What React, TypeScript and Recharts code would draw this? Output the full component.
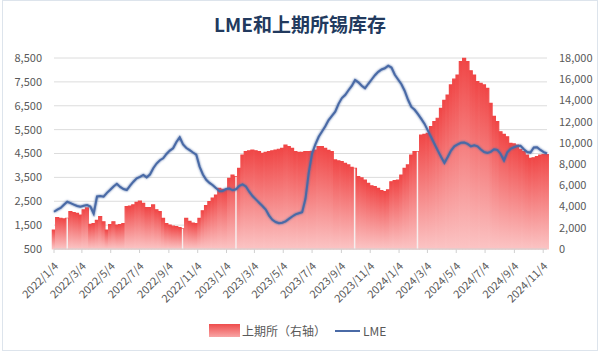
import React from 'react';
import { ComposedChart, Bar, Line, XAxis, YAxis, CartesianGrid, ReferenceLine } from 'recharts';

// weekly samples starting 2022/1/4 (x = week * 7 days)
const lmeStock = [
  2060, 2150, 2220, 2350, 2480, 2420, 2360, 2300, 2270, 2310, 2340, 2280, 1980, 2700, 2720, 2690,
  2850, 2980, 3120, 3230, 3100, 3010, 2970, 3150, 3320, 3460, 3520, 3600, 3500, 3620, 3880, 4080,
  4220, 4300, 4480, 4620, 4720, 4980, 5180, 4880, 4730, 4640, 4540, 4450, 3950, 3620, 3400, 3270,
  3170, 3050, 2920, 2930, 3010, 3030, 2960, 3000, 3150, 3210, 3120, 2900, 2720, 2580, 2440, 2300,
  2150, 1900, 1720, 1630, 1580, 1600, 1660, 1760, 1860, 1950, 2000, 2040, 2600, 3700, 4500, 4880,
  5200, 5420, 5640, 5900, 6080, 6250, 6580, 6820, 6950, 7150, 7330, 7580, 7480, 7340, 7230, 7420,
  7600, 7780, 7920, 8020, 8070, 8180, 8100, 7800, 7600, 7400, 7120, 6750, 6450, 6330, 6150, 5950,
  5740, 5460, 5180, 4900, 4620, 4350, 4100, 4350, 4620, 4800, 4880, 4950, 4960, 4900, 4800, 4840,
  4800, 4670, 4560, 4520, 4570, 4680, 4650, 4480, 4200, 4550, 4700, 4760, 4810, 4820, 4680, 4560,
  4540, 4750, 4760, 4650, 4560, 4500,
];

const shfeStock = [
  1790, 2950, 2900, 2830, 2900, 3520, 3420, 3360, 3200, 3700, 3870, 2330, 2390, 2700, 3050, 2570,
  1790, 2300, 2570, 2260, 2300, 2390, 3990, 4050, 4150, 4400, 4520, 4300, 3900, 3890, 4150, 3700,
  3520, 2890, 2400, 2260, 2150, 2100, 2010, 1900, 2890, 2600, 2450, 2390, 2890, 3600, 4100, 4460,
  4800, 5090, 5720, 5620, 5570, 6660, 6970, 6820, 7600, 8860, 9170, 9250, 9330, 9250, 9170, 9020,
  9100, 9170, 9250, 9330, 9400, 9490, 9800, 9650, 9490, 9170, 9100, 9100, 9170, 9170, 9200, 9330,
  9640, 9640, 9490, 9300, 9170, 8390, 8300, 8230, 8070, 7920, 7700, 7600, 6820, 6700, 6500, 6190,
  5950, 5870, 5720, 5500, 5400, 5570, 6340, 6450, 6500, 6970, 7600, 7920, 8860, 9170, 9170, 10740,
  10800, 10900, 11530, 12000, 12320, 13260, 14000, 14510, 15460, 16000, 16400, 17650, 17970, 17650, 16800, 16400,
  15770, 15600, 15460, 15140, 13730, 12500, 12000, 11050, 10800, 10580, 9960, 9900, 9800, 9400, 9170, 8860,
  8550, 8600, 8700, 8860, 8900, 8900,
];

// days after 2022/1/4
const tickDays = [0, 59, 120, 181, 243, 304, 365, 424, 485, 546, 608, 669, 730, 790, 851, 912, 974, 1035];
const tickLabels = [
  '2022/1/4', '2022/3/4', '2022/5/4', '2022/7/4', '2022/9/4', '2022/11/4',
  '2023/1/4', '2023/3/4', '2023/5/4', '2023/7/4', '2023/9/4', '2023/11/4',
  '2024/1/4', '2024/3/4', '2024/5/4', '2024/7/4', '2024/9/4', '2024/11/4',
];
const holidayDays = [28, 272, 385, 636, 769];

const leftTicks = [500, 1500, 2500, 3500, 4500, 5500, 6500, 7500, 8500];
const rightTicks = [0, 2000, 4000, 6000, 8000, 10000, 12000, 14000, 16000, 18000];

const data = lmeStock.map((v, i) => ({ day: i * 7, lme: v, shfe: shfeStock[i] }));

const FONT = '"Noto Sans CJK SC", "Noto Sans", sans-serif';
const TEXT = '#595959';
const BLUE = '#4a6aa6';

const fmt = (v: number) => v.toLocaleString('en-US');

const DateTick = (props: any) => {
  const { x, y, payload } = props;
  const idx = tickDays.indexOf(payload.value);
  const label = idx >= 0 ? tickLabels[idx] : '';
  return (
    <text
      x={x + 5}
      y={y + 12}
      transform={`rotate(-45, ${x + 5}, ${y + 12})`}
      textAnchor="end"
      fill={TEXT}
      fontSize={11}
      fontFamily={FONT}
    >
      {label}
    </text>
  );
};

const App: React.FC = () => {
  return (
    <div style={{ position: 'absolute', left: 0, top: 0, width: 600, height: 352, background: '#fff', fontFamily: FONT }}>
      <div style={{ position: 'absolute', left: 2, top: 0, width: 594, height: 349, border: '1px solid #dde4ec' }} />
      <div
        style={{
          position: 'absolute', left: 0, top: 11, width: 600, textAlign: 'center',
          fontSize: 19, fontWeight: 700, color: '#223a5e', lineHeight: '26px',
        }}
      >
        LME和上期所锡库存
      </div>

      <ComposedChart
        width={600}
        height={352}
        data={data}
        margin={{ top: 58, right: 0, bottom: 43, left: 0 }}
        barCategoryGap={0}
        barGap={0}
      >
        <defs>
          <linearGradient id="shfeFill" x1="0" y1="0" x2="0" y2="1">
            <stop offset="0%" stopColor="#f04646" />
            <stop offset="100%" stopColor="#fbc4c4" />
          </linearGradient>
          <filter id="glow" x="-5%" y="-5%" width="110%" height="110%">
            <feGaussianBlur in="SourceGraphic" stdDeviation="0.9" result="b" />
            <feMerge>
              <feMergeNode in="b" />
              <feMergeNode in="SourceGraphic" />
            </feMerge>
          </filter>
        </defs>
        <CartesianGrid yAxisId="left" vertical={false} stroke="#dcdcdc" />
        <XAxis
          dataKey="day"
          type="number"
          domain={[0, 1043]}
          ticks={tickDays}
          interval={0}
          height={60}
          tick={<DateTick />}
          axisLine={{ stroke: '#d0d0d0' }}
          tickLine={{ stroke: '#d0d0d0' }}
          tickSize={4}
        />
        <YAxis
          yAxisId="left"
          domain={[500, 8500]}
          ticks={leftTicks}
          width={54}
          axisLine={false}
          tickLine={false}
          tickFormatter={fmt}
          tick={{ fill: TEXT, fontSize: 11, fontFamily: FONT }}
          tickMargin={6}
        />
        <YAxis
          yAxisId="right"
          orientation="right"
          domain={[0, 18000]}
          ticks={rightTicks}
          width={53}
          axisLine={false}
          tickLine={false}
          tickFormatter={fmt}
          tick={{ fill: TEXT, fontSize: 11, fontFamily: FONT }}
          tickMargin={6}
        />
        <Bar
          yAxisId="right"
          dataKey="shfe"
          fill="url(#shfeFill)"
          stroke="url(#shfeFill)"
          strokeWidth={1.2}
          isAnimationActive={false}
        />
        {holidayDays.map((d) => {
          const v = shfeStock[Math.round(d / 7)];
          return (
            <ReferenceLine
              key={d}
              yAxisId="right"
              segment={[{ x: d, y: 0 }, { x: d, y: v }]}
              stroke="#f6eeee"
              strokeWidth={1.5}
            />
          );
        })}
        <Line
          yAxisId="left"
          dataKey="lme"
          stroke={BLUE}
          strokeWidth={2}
          dot={false}
          type="linear"
          filter="url(#glow)"
          isAnimationActive={false}
        />
      </ComposedChart>

      {/* legend */}
      <div style={{ position: 'absolute', left: 209, top: 324, width: 31, height: 13, background: 'linear-gradient(#ef4d4d, #f8a5a5)' }} />
      <div style={{ position: 'absolute', left: 242, top: 321, fontSize: 12, color: TEXT, lineHeight: '20px' }}>上期所（右轴）</div>
      <div style={{ position: 'absolute', left: 335, top: 330, width: 25, height: 2, background: BLUE }} />
      <div style={{ position: 'absolute', left: 363, top: 321, fontSize: 12, color: TEXT, lineHeight: '20px' }}>LME</div>
    </div>
  );
};

export default App;
